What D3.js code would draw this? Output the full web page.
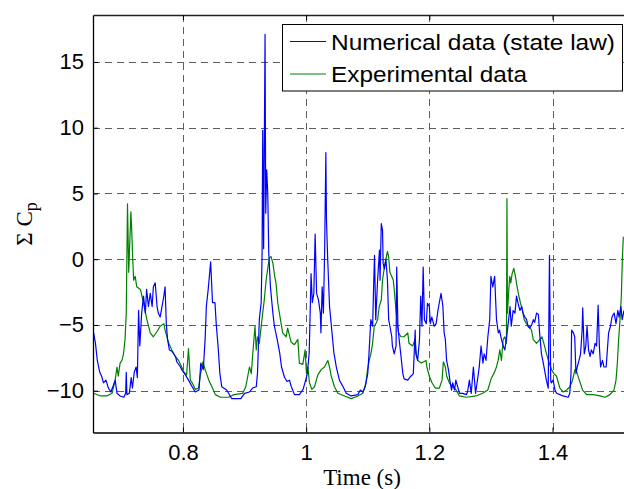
<!DOCTYPE html>
<html>
<head>
<meta charset="utf-8">
<script src="https://cdn.jsdelivr.net/npm/d3@7"></script>
<style>
	body { margin: 0; background: #fff; }
	svg { display: block; }
</style>
</head>
<body>
<div id="chart"></div>
<script>
// [time (s), sum of Cp]
const numericalData = [
	[0.655,-5.6],[0.658,-6.4],[0.661,-7.7],[0.665,-8.6],[0.668,-8.9],[0.671,-9.4],[0.675,-9.2],[0.679,-9.8],[0.683,-10.1],[0.687,-9.6],
	[0.690,-9.2],[0.693,-10.2],[0.698,-10.4],[0.704,-10.5],[0.707,-10.2],[0.708,-8.6],[0.709,-10.3],[0.713,-10.2],[0.716,-9.0],[0.718,-9.8],
	[0.721,-8.6],[0.724,-8.2],[0.726,-9.0],[0.728,-3.9],[0.730,-6.6],[0.733,-4.1],[0.736,-2.8],[0.739,-4.1],[0.741,-2.3],[0.744,-3.6],
	[0.747,-2.6],[0.750,-3.6],[0.752,-2.1],[0.755,-1.8],[0.758,-3.6],[0.760,-4.1],[0.763,-4.4],[0.766,-3.6],[0.769,-2.8],[0.771,-2.1],
	[0.773,-4.9],[0.775,-6.1],[0.778,-6.9],[0.782,-7.0],[0.788,-7.4],[0.790,-7.8],[0.796,-8.2],[0.798,-8.4],[0.804,-8.8],[0.809,-9.2],
	[0.815,-9.7],[0.820,-10.1],[0.826,-9.95],[0.829,-7.9],[0.833,-8.4],[0.836,-6.1],[0.838,-3.6],[0.841,-2.3],[0.845,-0.2],[0.848,-3.3],
	[0.852,-3.3],[0.854,-4.9],[0.857,-6.6],[0.860,-8.7],[0.863,-9.7],[0.871,-9.95],[0.879,-10.6],[0.894,-10.6],[0.900,-10.2],[0.908,-10.1],
	[0.913,-9.8],[0.919,-9.7],[0.921,-8.7],[0.924,-4.6],[0.927,-3.3],[0.9285,0.5],[0.9295,9.8],[0.931,0.8],[0.9333,17.1],[0.9344,3.5],
	[0.936,6.8],[0.9377,5.0],[0.9393,0.5],[0.942,-2.1],[0.946,-4.1],[0.9485,-5.1],[0.953,-6.1],[0.957,-7.1],[0.960,-8.2],[0.965,-9.0],
	[0.969,-9.3],[0.973,-9.2],[0.976,-9.7],[0.981,-10.3],[0.989,-10.3],[0.995,-9.9],[0.998,-9.4],[1.002,-8.7],[1.005,-7.1],[1.008,-1.1],
	[1.010,-3.3],[1.0125,-2.6],[1.0146,1.9],[1.017,-2.6],[1.020,-3.1],[1.023,-4.1],[1.024,-5.6],[1.026,-2.1],[1.028,-4.1],[1.030,0.5],
	[1.032,8.1],[1.033,3.0],[1.035,0.0],[1.038,-3.6],[1.041,-5.1],[1.045,-7.1],[1.049,-8.2],[1.054,-9.2],[1.060,-9.7],[1.065,-10.2],
	[1.073,-10.4],[1.084,-10.3],[1.088,-9.95],[1.092,-10.1],[1.096,-9.7],[1.100,-8.7],[1.102,-7.2],[1.105,-4.6],[1.108,-5.1],[1.1095,-2.1],
	[1.111,0.3],[1.113,-4.6],[1.116,-1.6],[1.119,0.7],[1.120,-1.6],[1.122,2.7],[1.124,2.2],[1.125,-0.3],[1.127,-0.75],[1.1295,0.0],
	[1.132,-1.6],[1.134,-4.6],[1.136,-5.1],[1.139,-5.9],[1.140,-6.6],[1.143,-7.2],[1.146,-6.6],[1.147,-0.6],[1.149,-5.1],[1.151,-6.1],
	[1.154,-7.4],[1.157,-8.7],[1.159,-9.1],[1.165,-9.2],[1.170,-8.9],[1.174,-8.7],[1.177,-5.4],[1.178,-7.2],[1.181,-7.7],[1.184,-6.1],
	[1.186,-2.8],[1.188,-5.1],[1.190,-0.6],[1.192,-4.6],[1.195,-4.9],[1.197,-3.35],[1.200,-3.6],[1.2016,-4.9],[1.204,-4.4],[1.208,-5.1],
	[1.211,-4.9],[1.214,-3.9],[1.216,-3.35],[1.219,-2.6],[1.222,-3.6],[1.224,-5.6],[1.226,-6.1],[1.228,-7.7],[1.231,-8.4],[1.234,-9.4],
	[1.236,-9.95],[1.238,-9.4],[1.241,-9.95],[1.243,-9.2],[1.246,-9.7],[1.249,-10.2],[1.254,-10.2],[1.260,-10.3],[1.262,-10.1],[1.265,-9.2],
	[1.268,-10.2],[1.2715,-8.2],[1.275,-10.2],[1.279,-8.9],[1.281,-8.2],[1.284,-6.6],[1.287,-7.9],[1.289,-7.2],[1.292,-7.7],[1.295,-5.9],
	[1.298,-4.6],[1.300,-1.3],[1.303,-2.1],[1.306,-1.3],[1.309,-4.6],[1.312,-5.6],[1.314,-5.4],[1.317,-6.1],[1.320,-6.6],[1.3225,-6.9],
	[1.325,-6.1],[1.328,-4.9],[1.331,-3.6],[1.333,-5.1],[1.336,-3.9],[1.339,-4.1],[1.3415,-2.8],[1.344,-3.35],[1.347,-3.9],[1.350,-3.6],
	[1.352,-4.1],[1.355,-4.4],[1.358,-4.6],[1.360,-5.1],[1.363,-5.25],[1.366,-5.0],[1.369,-4.6],[1.371,-4.8],[1.374,-4.1],[1.377,-4.2],
	[1.379,-5.6],[1.382,-7.2],[1.385,-7.9],[1.3875,-8.55],[1.390,-9.2],[1.393,-9.8],[1.395,0.3],[1.397,-9.2],[1.398,-9.4],[1.401,-9.2],
	[1.404,-9.95],[1.4065,-10.2],[1.412,-10.3],[1.417,-10.4],[1.4255,-10.5],[1.428,-10.2],[1.430,-8.7],[1.431,-5.4],[1.434,-5.6],[1.436,-5.9],
	[1.438,-8.7],[1.440,-8.2],[1.443,-7.7],[1.4455,-7.2],[1.448,-5.4],[1.449,-3.7],[1.4515,-7.2],[1.454,-6.6],[1.456,-5.1],[1.4585,-6.9],
	[1.461,-7.4],[1.463,-6.9],[1.466,-7.2],[1.469,-6.4],[1.4715,-6.6],[1.474,-3.5],[1.476,-6.6],[1.478,-8.2],[1.481,-7.7],[1.4835,-8.2],
	[1.487,-8.2],[1.489,-6.9],[1.491,-5.6],[1.494,-5.1],[1.4965,-4.4],[1.500,-4.1],[1.503,-4.9],[1.506,-3.9],[1.508,-4.4],[1.511,-3.6],
	[1.513,-4.6],[1.516,-3.9]
];

const experimentalData = [
	[0.655,-10.2],[0.666,-10.4],[0.676,-10.4],[0.685,-10.2],[0.690,-9.2],[0.693,-8.2],[0.695,-8.9],[0.698,-7.9],[0.701,-7.7],[0.7035,-7.2],
	[0.706,-6.1],[0.708,-4.1],[0.710,4.2],[0.712,-1.0],[0.7155,3.6],[0.717,2.0],[0.7185,0.0],[0.720,-1.6],[0.7225,-1.3],[0.725,-2.1],
	[0.731,-2.3],[0.736,-3.35],[0.7415,-4.6],[0.747,-5.6],[0.752,-5.9],[0.758,-5.5],[0.763,-5.1],[0.769,-4.9],[0.771,-5.4],[0.777,-6.4],
	[0.782,-6.9],[0.7875,-7.4],[0.793,-7.7],[0.798,-8.2],[0.801,-8.55],[0.806,-8.8],[0.809,-6.8],[0.812,-9.2],[0.815,-9.4],[0.820,-9.9],
	[0.8255,-9.8],[0.828,-8.9],[0.8325,-7.8],[0.836,-8.4],[0.842,-9.2],[0.847,-9.7],[0.8526,-10.3],[0.861,-10.5],[0.874,-10.5],[0.883,-10.3],
	[0.897,-10.2],[0.902,-9.7],[0.908,-8.2],[0.911,-8.7],[0.913,-7.4],[0.917,-5.1],[0.919,-6.9],[0.921,-5.9],[0.924,-6.4],[0.927,-5.1],
	[0.9295,-4.1],[0.932,-3.1],[0.935,-1.6],[0.938,-0.6],[0.9404,0.1],[0.943,0.2],[0.946,-0.3],[0.949,-1.3],[0.951,-1.8],[0.954,-3.35],
	[0.9583,-4.6],[0.962,-5.6],[0.9675,-5.9],[0.970,-5.25],[0.9756,-6.3],[0.981,-6.5],[0.9865,-6.1],[0.989,-7.9],[0.9946,-8.0],[0.9984,-6.9],
	[1.0005,-8.7],[1.0027,-8.2],[1.0054,-9.4],[1.0092,-9.9],[1.0136,-9.7],[1.019,-8.8],[1.0244,-8.4],[1.0298,-8.2],[1.0352,-7.7],[1.038,-8.2],
	[1.0407,-8.9],[1.046,-9.7],[1.0515,-10.2],[1.0623,-10.4],[1.0732,-10.6],[1.084,-10.4],[1.092,-10.2],[1.097,-9.4],[1.0997,-8.4],[1.1024,-7.7],
	[1.1051,-7.2],[1.1079,-6.4],[1.1106,-5.1],[1.1133,-4.9],[1.116,-4.6],[1.1187,-3.6],[1.122,-3.1],[1.124,-1.6],[1.127,-0.6],[1.1295,0.0],
	[1.132,0.6],[1.1339,0.2],[1.136,-1.0],[1.1388,-1.3],[1.1415,-1.6],[1.1436,-2.6],[1.1458,-3.9],[1.1485,-5.1],[1.150,-5.6],[1.154,-5.9],
	[1.159,-5.9],[1.165,-5.6],[1.167,-6.4],[1.1729,-6.6],[1.1767,-6.1],[1.1783,-6.9],[1.181,-7.7],[1.1873,-7.9],[1.1946,-7.7],[1.196,-8.2],
	[1.200,-8.9],[1.2043,-9.4],[1.2098,-9.8],[1.2163,-9.8],[1.2206,-9.2],[1.2228,-7.8],[1.226,-8.2],[1.2282,-8.9],[1.2325,-9.4],[1.2379,-9.7],
	[1.2434,-9.95],[1.2488,-10.4],[1.2596,-10.5],[1.2759,-10.4],[1.2867,-10.2],[1.2949,-9.95],[1.3003,-9.1],[1.3062,-8.55],[1.3089,-8.2],[1.3117,-7.7],
	[1.3144,-6.9],[1.3171,-7.7],[1.3198,-6.1],[1.3225,-5.9],[1.3252,-6.4],[1.326,4.6],[1.3268,-4.1],[1.329,-2.3],[1.3306,-1.3],[1.3322,-1.8],
	[1.3344,-1.1],[1.3371,-0.7],[1.3398,-1.3],[1.3425,-2.1],[1.3453,-2.8],[1.348,-3.35],[1.3512,-3.9],[1.3539,-4.6],[1.3577,-4.9],[1.362,-5.1],
	[1.3659,-5.4],[1.3686,-6.1],[1.374,-6.4],[1.3794,-6.1],[1.3827,-5.9],[1.3859,-6.4],[1.3902,-7.2],[1.3946,-7.9],[1.3984,-8.4],[1.4022,-8.7],
	[1.4065,-8.9],[1.4119,-9.8],[1.4173,-10.1],[1.4228,-9.95],[1.4282,-9.7],[1.4325,-9.2],[1.4363,-8.4],[1.439,-8.55],[1.4434,-9.2],[1.4488,-9.95],
	[1.4553,-10.3],[1.4661,-10.3],[1.477,-10.4],[1.4851,-10.5],[1.4932,-10.3],[1.4997,-9.95],[1.503,-9.2],[1.5052,-7.9],[1.5073,-6.1],[1.5095,-4.6],
	[1.5117,-2.8],[1.5133,0.0],[1.5149,1.7]
];

const seriesNames = ["Numerical data (state law)", "Experimental data"];
const seriesColors = ["#0000ff", "#008000"];
const xTicks = [0.8, 1, 1.2, 1.4];
const yTicks = [-10, -5, 0, 5, 10, 15];
const xLimits = [0.654, 1.516];
const yLimits = [-13.18, 18.57];

// container size
const width = 624;
const height = 489;
const margin = {
	top: 15, right: 0, bottom: 56.5, left: 93
};
const innerW = width - margin.left - margin.right;
const innerH = height - margin.top - margin.bottom;
const sans = "Liberation Sans, Arial, sans-serif";
const serif = "Liberation Serif, Times New Roman, serif";

/* eslint-disable indent */
const svg = d3.select("#chart")
	.append("svg")
		.attr("width", width)
		.attr("height", height);

const x = d3.scaleLinear()
	.domain(xLimits)
	.range([margin.left, margin.left + innerW]);
const y = d3.scaleLinear()
	.domain(yLimits)
	.range([margin.top + innerH, margin.top]);

svg.append("defs")
	.append("clipPath")
		.attr("id", "plot-clip")
	.append("rect")
		.attr("x", margin.left)
		.attr("y", margin.top)
		.attr("width", innerW)
		.attr("height", innerH);

// grid
const grid = svg.append("g")
	.attr("stroke", "#5f5f5f")
	.attr("stroke-width", 1)
	.attr("stroke-dasharray", "7,5");
grid.selectAll("line.vx")
	.data(xTicks)
	.join("line")
		.attr("class", "vx")
		.attr("x1", d => Math.round(x(d)) + 0.5)
		.attr("x2", d => Math.round(x(d)) + 0.5)
		.attr("y1", margin.top)
		.attr("y2", margin.top + innerH);
grid.selectAll("line.hy")
	.data(yTicks)
	.join("line")
		.attr("class", "hy")
		.attr("x1", margin.left)
		.attr("x2", margin.left + innerW)
		.attr("y1", d => Math.round(y(d)) + 0.5)
		.attr("y2", d => Math.round(y(d)) + 0.5);

// series
const line = d3.line()
	.x(d => x(d[0]))
	.y(d => y(d[1]));
svg.append("g")
		.attr("clip-path", "url(#plot-clip)")
	.selectAll("path")
	.data([experimentalData, numericalData])
	.join("path")
		.attr("d", line)
		.attr("fill", "none")
		.attr("stroke", (d, i) => seriesColors[1 - i])
		.attr("stroke-width", 1.2)
		.attr("stroke-linejoin", "round");

// axes (MATLAB style, ticks inward)
svg.append("g")
		.attr("transform", `translate(0,${margin.top + innerH})`)
		.call(d3.axisBottom(x).tickValues(xTicks).tickFormat(d3.format("")).tickSizeInner(-5).tickSizeOuter(0).tickPadding(12))
		.call(g => g.select(".domain").attr("stroke", "#000").attr("stroke-width", 1.3))
		.call(g => g.selectAll(".tick text").attr("font-family", sans).attr("font-size", 22).attr("fill", "#000"));
svg.append("g")
		.attr("transform", `translate(0,${margin.top})`)
		.call(d3.axisTop(x).tickValues(xTicks).tickFormat("").tickSizeInner(-5).tickSizeOuter(0))
		.call(g => g.select(".domain").attr("stroke", "#222").attr("stroke-width", 1.3));
svg.append("g")
		.attr("transform", `translate(${margin.left},0)`)
		.call(d3.axisLeft(y).tickValues(yTicks).tickSizeInner(-5).tickSizeOuter(0).tickPadding(9))
		.call(g => g.select(".domain").attr("stroke", "#000").attr("stroke-width", 1.3))
		.call(g => g.selectAll(".tick text").attr("font-family", sans).attr("font-size", 22).attr("fill", "#000"));

// axis labels
svg.append("text")
		.attr("x", 362)
		.attr("y", 485)
		.attr("text-anchor", "middle")
		.attr("font-family", serif)
		.attr("font-size", 23)
		.text("Time (s)");
const ylab = svg.append("text")
		.attr("transform", "translate(32,224) rotate(-90)")
		.attr("text-anchor", "middle")
		.attr("font-family", serif)
		.attr("font-size", 23);
ylab.append("tspan").text("Σ C");
ylab.append("tspan")
		.attr("dy", 5)
		.attr("font-size", 18)
		.text("p");

// legend
const legendText = [284, 196];
const legend = svg.append("g");
legend.append("rect")
		.attr("x", 282.5)
		.attr("y", 24.5)
		.attr("width", 340)
		.attr("height", 66.5)
		.attr("fill", "#fff")
		.attr("stroke", "#000")
		.attr("stroke-width", 1);
const item = legend.selectAll("g.item")
	.data(seriesNames)
	.join("g")
		.attr("class", "item")
		.attr("transform", (d, i) => `translate(0,${41.5 + i * 32.5})`);
item.append("line")
		.attr("x1", 290)
		.attr("x2", 326)
		.attr("stroke", (d, i) => seriesColors[i])
		.attr("stroke-width", 1);
item.append("text")
		.attr("x", 331)
		.attr("y", 8)
		.attr("font-family", sans)
		.attr("font-size", 22)
		.attr("textLength", (d, i) => legendText[i])
		.attr("lengthAdjust", "spacingAndGlyphs")
		.text(d => d);
/* eslint-enable */
</script>
</body>
</html>
